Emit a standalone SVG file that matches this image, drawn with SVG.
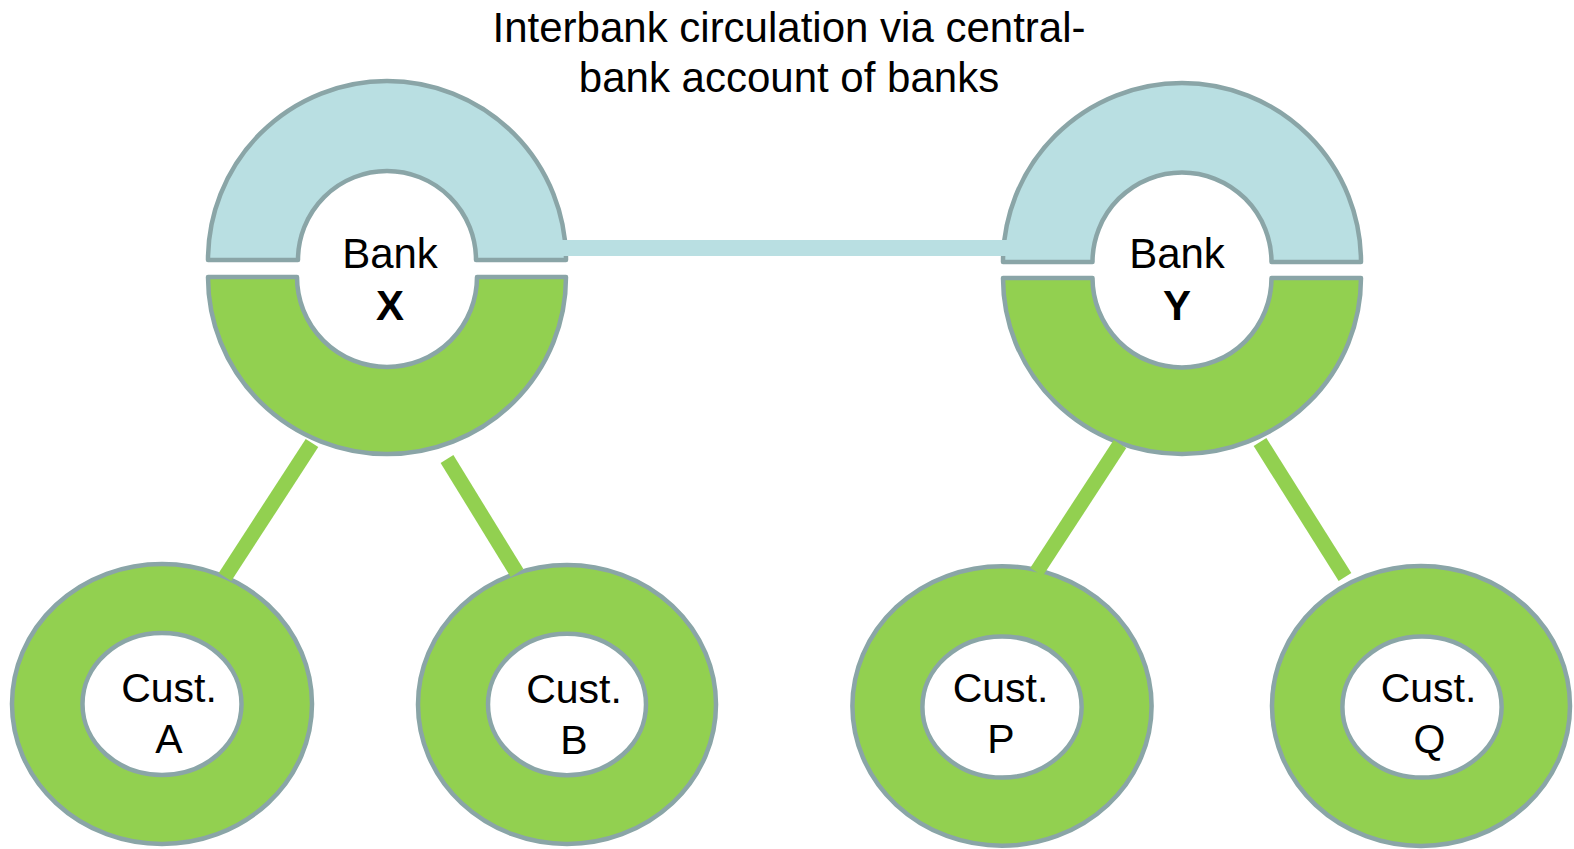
<svg xmlns="http://www.w3.org/2000/svg" width="1574" height="849" viewBox="0 0 1574 849">
<style>
.txt{font-family:"Liberation Sans",Arial,sans-serif;fill:#000;text-anchor:middle}
.title{font-size:42px}
.lbl{font-size:42px}
.bold{font-weight:bold}
.cl{font-size:41px}
.blue{fill:#b9dfe2;stroke:#8aa5a7;stroke-width:4.5;stroke-linejoin:round}
.green{fill:#92d050;stroke:#8aa5a7;stroke-width:4.5;stroke-linejoin:round}
.hole{fill:#fff;stroke:#8aa5a7;stroke-width:4.5}
.gl{stroke:#92d050;stroke-width:15;stroke-linecap:butt;fill:none}
.bl{fill:#b9dfe2}
</style>
<rect width="1574" height="849" fill="#fff"/>
<g id="title">
<text class="txt title" x="789" y="42">Interbank circulation via central-</text>
<text class="txt title" x="789" y="92">bank account of banks</text>
</g>
<g id="bankX">
<path class="blue" d="M208 260 A179 179 0 0 1 566 260 L476 260 A89 89 0 0 0 298 260 Z"/>
<path class="green" d="M208 277 L297 277 A90 90 0 0 0 477 277 L566 277 A179 177 0 0 1 208 277 Z"/>
<text class="txt lbl" x="390" y="268">Bank</text>
<text class="txt lbl bold" x="390" y="320">X</text>
</g>
<g id="bankY">
<path class="blue" d="M1003 262 A179 179 0 0 1 1361 262 L1271.5 262 A89.5 89.5 0 0 0 1092.5 262 Z"/>
<path class="green" d="M1003 278 L1092.5 278 A89.5 89.5 0 0 0 1271.5 278 L1361 278 A179 176 0 0 1 1003 278 Z"/>
<text class="txt lbl" x="1177" y="268">Bank</text>
<text class="txt lbl bold" x="1177" y="320">Y</text>
</g>
<g id="custA">
<ellipse class="green" cx="162" cy="704" rx="150" ry="140"/>
<ellipse class="hole" cx="162" cy="704" rx="79.5" ry="71"/>
<text class="txt cl" x="169" y="702">Cust.</text>
<text class="txt cl" x="169" y="753">A</text>
</g>
<g id="custB">
<ellipse class="green" cx="567" cy="704.5" rx="149" ry="139.5"/>
<ellipse class="hole" cx="567" cy="704.5" rx="79" ry="70.7"/>
<text class="txt cl" x="574" y="703">Cust.</text>
<text class="txt cl" x="574" y="754">B</text>
</g>
<g id="custP">
<ellipse class="green" cx="1002" cy="706" rx="149.6" ry="139.8"/>
<ellipse class="hole" cx="1002" cy="707" rx="79.6" ry="70.6"/>
<text class="txt cl" x="1000.5" y="702">Cust.</text>
<text class="txt cl" x="1001" y="753">P</text>
</g>
<g id="custQ">
<ellipse class="green" cx="1421" cy="706" rx="149" ry="140"/>
<ellipse class="hole" cx="1422" cy="707" rx="79.6" ry="70.6"/>
<text class="txt cl" x="1428.5" y="702">Cust.</text>
<text class="txt cl" x="1429.5" y="753">Q</text>
</g>
<g id="connectors">
<rect class="bl" x="490" y="240" width="557" height="16"/>
<line class="gl" x1="312" y1="443" x2="225" y2="577"/>
<line class="gl" x1="447" y1="459" x2="517" y2="573"/>
<line class="gl" x1="1120" y1="444" x2="1036.5" y2="572"/>
<line class="gl" x1="1260" y1="442" x2="1345" y2="577"/>
</g>
</svg>
